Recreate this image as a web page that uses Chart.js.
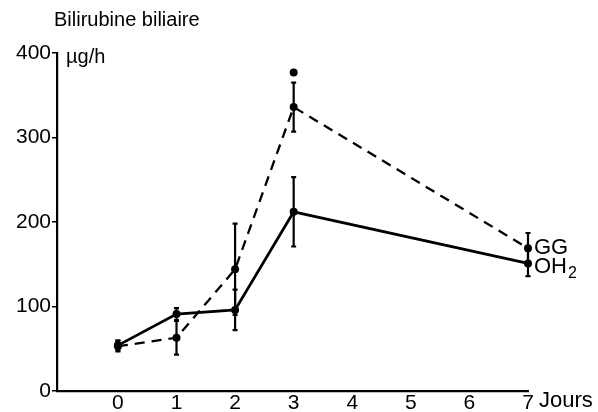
<!DOCTYPE html>
<html>
<head>
<meta charset="utf-8">
<script src="https://cdn.jsdelivr.net/npm/chart.js@4/dist/chart.umd.min.js"></script>
<style>
  html, body { margin: 0; padding: 0; background: #fff; }
  #wrap { width: 598px; height: 412px; }
</style>
</head>
<body>
<div id="wrap"><canvas id="bili" width="598" height="412"></canvas></div>
<script>
// days after treatment, and biliary bilirubin output (µg/h) with SEM
const days = [0, 1, 2, 3, 7];
const ohValues = [54, 91, 96, 212, 151];
const ohErrors = [6, 7, 24, 41, 15];
const ggValues = [53, 63, 144, 336, 169];
const ggErrors = [6, 20, 54, 29, 18];
const ggOutlierDay = [3];
const ggOutlierValue = [377];
const dayTicks = [0, 1, 2, 3, 4, 5, 6, 7];
const bilirubinTicks = [0, 100, 200, 300, 400];

const FONT = '"Liberation Sans", Arial, Helvetica, sans-serif';

const toPoints = (xs, ys) => xs.map((d, i) => ({ x: d, y: ys[i] }));

// vertical error bars plus the free text around the axes
const extras = {
  id: 'extras',
  afterDatasetsDraw(chart) {
    const { ctx, scales: { x, y } } = chart;
    ctx.save();
    ctx.strokeStyle = '#000';
    ctx.lineWidth = 2.2;
    [[ohValues, ohErrors], [ggValues, ggErrors]].forEach(([vals, errs]) => {
      days.forEach((d, i) => {
        const px = x.getPixelForValue(d);
        const top = y.getPixelForValue(vals[i] + errs[i]);
        const bot = y.getPixelForValue(vals[i] - errs[i]);
        ctx.beginPath();
        ctx.moveTo(px, top); ctx.lineTo(px, bot);
        ctx.moveTo(px - 2.5, top); ctx.lineTo(px + 2.5, top);
        ctx.moveTo(px - 2.5, bot); ctx.lineTo(px + 2.5, bot);
        ctx.stroke();
      });
    });

    ctx.fillStyle = '#000';
    ctx.textBaseline = 'middle';
    ctx.textAlign = 'left';

    ctx.font = '20px ' + FONT;
    ctx.fillText('Bilirubine biliaire', 54, 20);
    ctx.font = '20px ' + FONT;
    ctx.fillText('µg/h', 66, 57);

    // series names next to the last points
    const last = days.length - 1;
    const lx = x.getPixelForValue(days[last]) + 6;
    ctx.font = '22px ' + FONT;
    ctx.fillText('GG', lx, y.getPixelForValue(ggValues[last]));
    const oy = y.getPixelForValue(ohValues[last]) + 4;
    ctx.fillText('OH', lx, oy);
    const ohW = ctx.measureText('OH').width;
    ctx.font = '16px ' + FONT;
    ctx.fillText('2', lx + ohW + 1, oy + 6);

    // axis unit after the last day tick
    ctx.font = '22px ' + FONT;
    ctx.fillText('Jours', x.getPixelForValue(7) + 11, 401);
    ctx.restore();
  }
};

new Chart(document.getElementById('bili'), {
  type: 'line',
  data: {
    datasets: [
      {
        label: 'OH2',
        data: toPoints(days, ohValues),
        borderColor: '#000',
        backgroundColor: '#000',
        borderWidth: 2.8,
        pointRadius: 4,
        pointBorderWidth: 0,
        tension: 0
      },
      {
        label: 'GG',
        data: toPoints(days, ggValues),
        borderColor: '#000',
        backgroundColor: '#000',
        borderWidth: 2.3,
        borderDash: [10, 7],
        pointRadius: 4,
        pointBorderWidth: 0,
        tension: 0
      },
      {
        label: 'GG single',
        data: toPoints(ggOutlierDay, ggOutlierValue),
        showLine: false,
        backgroundColor: '#000',
        borderColor: '#000',
        pointRadius: 4,
        pointBorderWidth: 0
      }
    ]
  },
  options: {
    responsive: false,
    animation: false,
    clip: false,
    layout: { padding: { top: 53, right: 70, left: 0, bottom: 0 } },
    plugins: {
      legend: { display: false },
      tooltip: { enabled: false }
    },
    scales: {
      x: {
        type: 'linear',
        min: -1.04,
        max: 7,
        afterBuildTicks: (scale) => { scale.ticks = dayTicks.map(v => ({ value: v })); },
        afterFit: (scale) => { scale.height = 21; },
        grid: { display: true, drawOnChartArea: false, drawTicks: false },
        border: { display: true, color: '#000', width: 2.2 },
        ticks: {
          color: '#000',
          padding: 0,
          maxRotation: 0,
          font: { family: FONT, size: 21 }
        }
      },
      y: {
        min: 0,
        max: 400,
        afterBuildTicks: (scale) => { scale.ticks = bilirubinTicks.map(v => ({ value: v })); },
        afterFit: (scale) => { scale.width = 57; },
        grid: {
          display: true,
          drawOnChartArea: false,
          drawTicks: true,
          tickLength: 5,
          color: '#000',
          lineWidth: 1.5
        },
        border: { display: true, color: '#000', width: 2.2 },
        ticks: {
          color: '#000',
          padding: 1,
          font: { family: FONT, size: 21 }
        }
      }
    }
  },
  plugins: [extras]
});
</script>
</body>
</html>
